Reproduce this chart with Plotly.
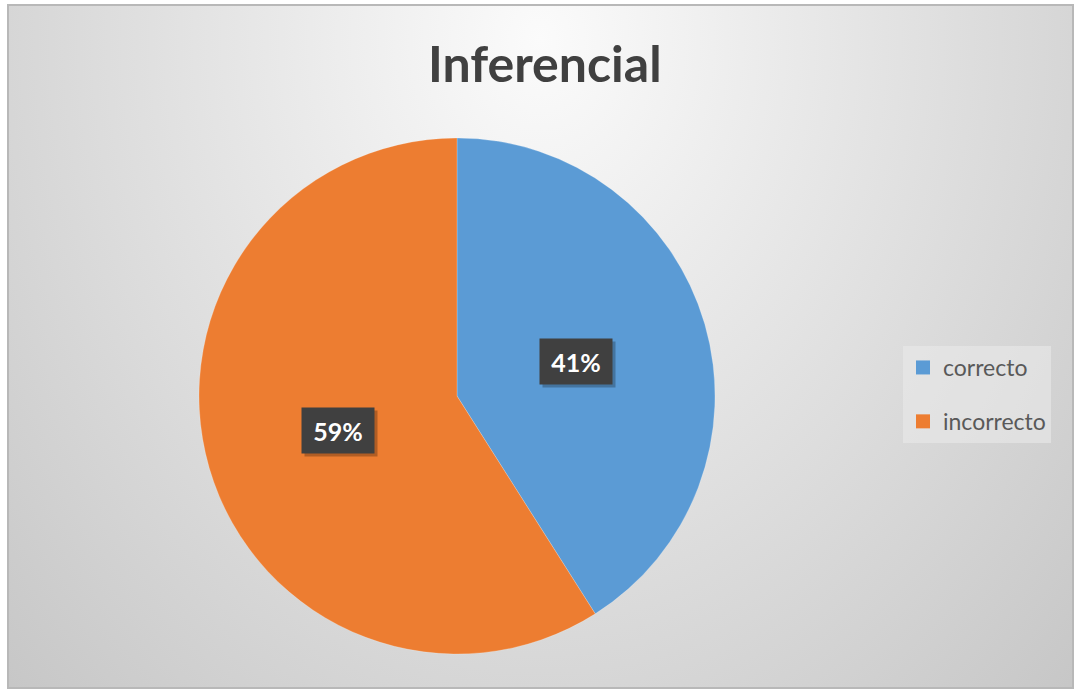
import math
import plotly.graph_objects as go

# ---- data ----
categories = ["correcto", "incorrecto"]
values = [41, 59]
colors = ["#5b9bd5", "#ed7d31"]
title_text = "Inferencial"

# ---- layout constants (pixels) ----
W, H = 1076, 690
FRAME = dict(x0=8, x1=1073, y0=5, y1=688)
CX, CY, R = 457, 396, 258
LABEL_FRAC = 0.48

fig = go.Figure()

# background radial gradient (Excel-like chart area)
gx0, gx1 = 540 - 820, 540 + 820
gy0, gy1 = 40 - 1000, 40 + 1000
fig.add_trace(go.Scatter(
    x=[gx0, gx1, gx1, gx0, gx0], y=[gy0, gy0, gy1, gy1, gy0],
    mode="lines", line=dict(width=0), fill="toself",
    fillgradient=dict(type="radial", colorscale=[[0, "#fbfbfb"], [1, "#c2c2c2"]]),
    hoverinfo="skip", showlegend=False,
))

fig.add_trace(go.Pie(
    labels=categories, values=values, sort=False, direction="clockwise", rotation=0,
    marker=dict(colors=colors, line=dict(color="rgba(255,255,255,0.35)", width=0.6)),
    textinfo="none", hoverinfo="label+percent",
    domain=dict(x=[(CX - R) / W, (CX + R) / W],
                y=[(H - CY - R) / H, (H - CY + R) / H]),
    showlegend=False,
))

# legend entries (one per category, so they can be spaced like the original)
for i, (cat, col) in enumerate(zip(categories, colors)):
    fig.add_trace(go.Scatter(
        x=[None], y=[None], mode="markers", name=cat, legendgroup=f"g{i}",
        marker=dict(symbol="square", size=14, color=col), showlegend=True,
    ))

# data labels computed from values
total = sum(values)
cum = 0
annotations = []
for v in values:
    mid = (cum + v / 2) / total * 2 * math.pi
    cum += v
    px = CX + LABEL_FRAC * R * math.sin(mid)
    py = CY - LABEL_FRAC * R * math.cos(mid)
    txt = f"{round(v / total * 100)}%"
    annotations.append(dict(
        x=px / W, y=1 - py / H, xref="paper", yref="paper", xanchor="center", yanchor="middle",
        text="", showarrow=False, width=70, height=43, bgcolor="rgba(0,0,0,0.25)",
        xshift=3, yshift=-3,
    ))
    annotations.append(dict(
        x=px / W, y=1 - py / H, xref="paper", yref="paper", xanchor="center", yanchor="middle",
        text=f"<b>{txt}</b>", showarrow=False, width=70, height=43,
        bgcolor="#404040", font=dict(family="Lato", size=25, color="white"),
    ))

annotations.append(dict(
    x=545 / W, y=1 - 63 / H, xref="paper", yref="paper", xanchor="center", yanchor="middle",
    text=f"<b>{title_text}</b>", showarrow=False,
    font=dict(family="Lato", size=50, color="#404040"),
))

fig.update_layout(
    width=W, height=H, autosize=False,
    margin=dict(l=0, r=0, t=0, b=0),
    paper_bgcolor="white", plot_bgcolor="rgba(0,0,0,0)",
    xaxis=dict(visible=False, range=[FRAME["x0"], FRAME["x1"]],
               domain=[FRAME["x0"] / W, FRAME["x1"] / W], fixedrange=True),
    yaxis=dict(visible=False, range=[FRAME["y1"], FRAME["y0"]],
               domain=[1 - FRAME["y1"] / H, 1 - FRAME["y0"] / H], fixedrange=True),
    legend=dict(
        x=903 / W, y=1 - 346 / H, xanchor="left", yanchor="top",
        traceorder="grouped", tracegroupgap=21, itemsizing="trace",
        font=dict(family="Lato", size=23, color="#595959"),
        bgcolor="rgba(234,234,234,0.6)", borderwidth=0,
    ),
    annotations=annotations,
    shapes=[dict(type="rect", xref="paper", yref="paper",
                 x0=FRAME["x0"] / W, x1=FRAME["x1"] / W,
                 y0=1 - FRAME["y1"] / H, y1=1 - FRAME["y0"] / H,
                 line=dict(color="#b8b8b8", width=2), layer="above")],
)

fig.write_html(
    "out.html",
    config={"displayModeBar": False},
    post_script="document.body.style.margin='0';document.body.style.overflow='hidden';",
)
